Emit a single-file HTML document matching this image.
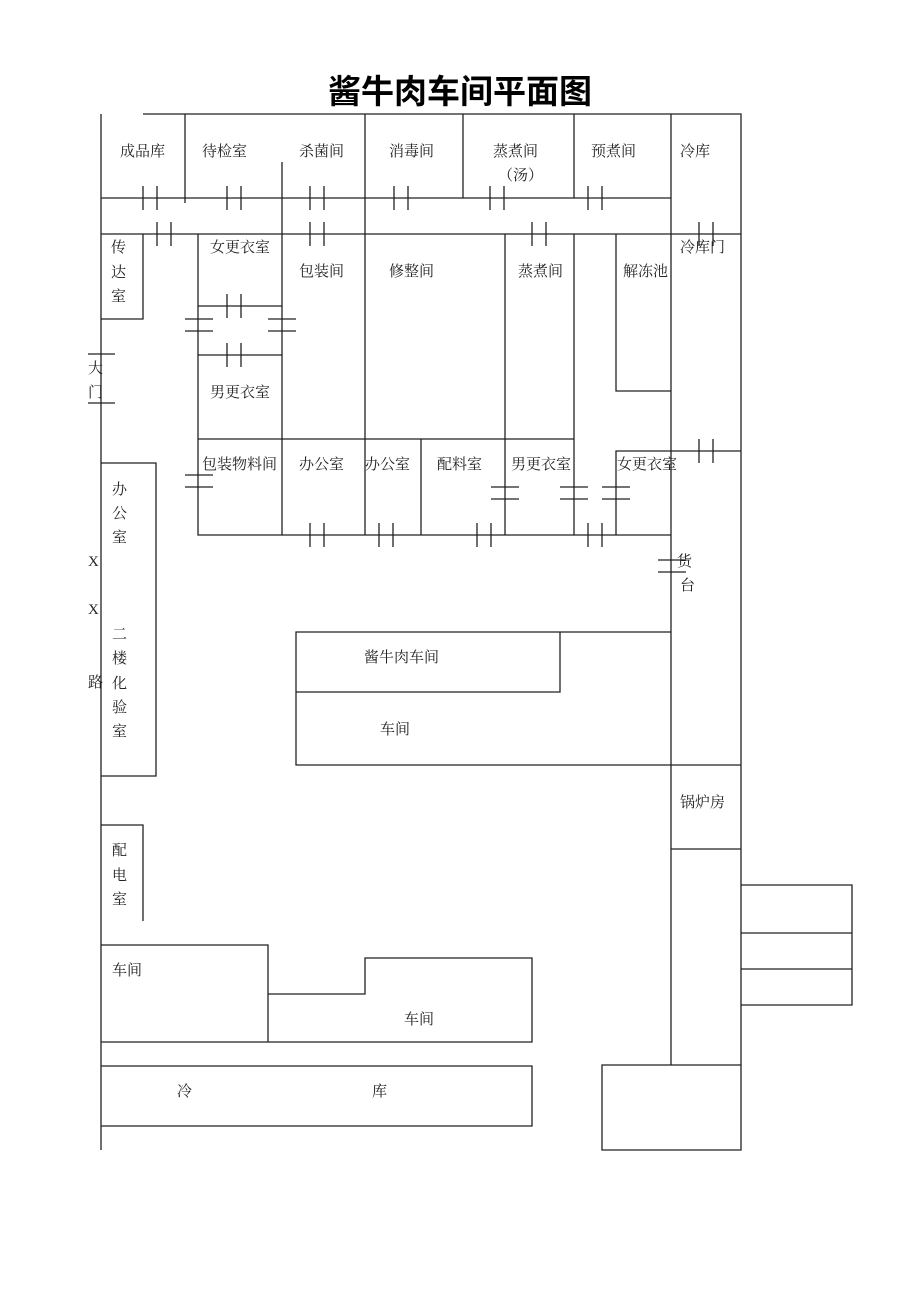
<!DOCTYPE html>
<html><head><meta charset="utf-8"><style>
html,body{margin:0;padding:0;background:#fff;}
svg{display:block;}
text{font-family:"Liberation Serif","Noto Serif CJK SC",serif;font-size:15px;fill:#222;}
.t{font-family:"Liberation Sans","Noto Sans CJK SC",sans-serif;font-size:33px;font-weight:bold;fill:#000;}
</style></head><body>
<svg width="920" height="1302" viewBox="0 0 920 1302" xmlns="http://www.w3.org/2000/svg">
<text class="t" x="460" y="103" text-anchor="middle">酱牛肉车间平面图</text>
<g stroke="#222" stroke-width="1.3" fill="none">
<!-- outer -->
<path d="M143 114H741V1065M101 114V1150"/>
<path d="M101 198H671M101 234H741"/>
<path d="M185 114V203M282 162V535M365 114V535M463 114V198M574 114V198M671 114V1065"/>
<!-- 传达室 -->
<path d="M101 319H143V234"/>
<!-- changing rooms -->
<path d="M198 234V535H671M198 306H282M198 355H282M198 439H574"/>
<path d="M505 234V535M574 234V535M421 439V535"/>
<path d="M616 234V391H671M616 535V451H741"/>
<!-- 大门 -->
<path d="M88 354H115M88 403H115"/>
<!-- left boxes -->
<path d="M101 463H156V776H101M101 825H143V921"/>
<path d="M101 945H268V1042M268 994H365V958H532V1042H101"/>
<path d="M101 1066H532V1126H101"/>
<!-- middle workshops -->
<path d="M671 632H296V765H741M296 692H560V632"/>
<path d="M671 849H741"/>
<path d="M741 885H852V1005H741M741 933H852M741 969H852"/>
<path d="M671 1065H741V1150H602V1065H671"/>
<!-- vertical door marks -->
<path d="M143 186V210M157 186V210M227 186V210M241 186V210M310 186V210M324 186V210M394 186V210M408 186V210M490 186V210M504 186V210M588 186V210M602 186V210"/>
<path d="M157 222V246M171 222V246M310 222V246M324 222V246M532 222V246M546 222V246M699 222V246M713 222V246"/>
<path d="M227 294V318M241 294V318M227 343V367M241 343V367M699 439V463M713 439V463"/>
<path d="M310 523V547M324 523V547M379 523V547M393 523V547M477 523V547M491 523V547M588 523V547M602 523V547"/>
<!-- horizontal door marks -->
<path d="M185 319H213M185 331H213M268 319H296M268 331H296M185 475H213M185 487H213"/>
<path d="M491 487H519M491 499H519M560 487H588M560 499H588M602 487H630M602 499H630M658 560H686M658 572H686"/>
</g>
<g>
<text x="120" y="156">成品库</text>
<text x="202" y="156">待检室</text>
<text x="299" y="156">杀菌间</text>
<text x="389" y="156">消毒间</text>
<text x="493" y="156">蒸煮间</text>
<text x="498" y="180">（汤）</text>
<text x="591" y="156">预煮间</text>
<text x="680" y="156">冷库</text>
<text x="111" y="252">传</text><text x="111" y="277">达</text><text x="111" y="301">室</text>
<text x="210" y="252">女更衣室</text>
<text x="299" y="276">包装间</text>
<text x="389" y="276">修整间</text>
<text x="518" y="276">蒸煮间</text>
<text x="623" y="276">解冻池</text>
<text x="680" y="252">冷库门</text>
<text x="88" y="373">大</text><text x="88" y="397">门</text>
<text x="210" y="397">男更衣室</text>
<text x="202" y="469">包装物料间</text>
<text x="299" y="469">办公室</text>
<text x="365" y="469">办公室</text>
<text x="437" y="469">配料室</text>
<text x="511" y="469">男更衣室</text>
<text x="617" y="469">女更衣室</text>
<text x="112" y="494">办</text><text x="112" y="518">公</text><text x="112" y="542">室</text>
<text x="88" y="566">X</text><text x="88" y="614">X</text><text x="88" y="687">路</text>
<text x="112" y="639">二</text><text x="112" y="663">楼</text><text x="112" y="688">化</text><text x="112" y="712">验</text><text x="112" y="736">室</text>
<text x="677" y="566">货</text><text x="680" y="590">台</text>
<text x="364" y="662">酱牛肉车间</text>
<text x="380" y="734">车间</text>
<text x="680" y="807">锅炉房</text>
<text x="112" y="855">配</text><text x="112" y="880">电</text><text x="112" y="904">室</text>
<text x="112" y="975">车间</text>
<text x="404" y="1024">车间</text>
<text x="177" y="1096">冷</text>
<text x="372" y="1096">库</text>
</g>
</svg>
</body></html>
